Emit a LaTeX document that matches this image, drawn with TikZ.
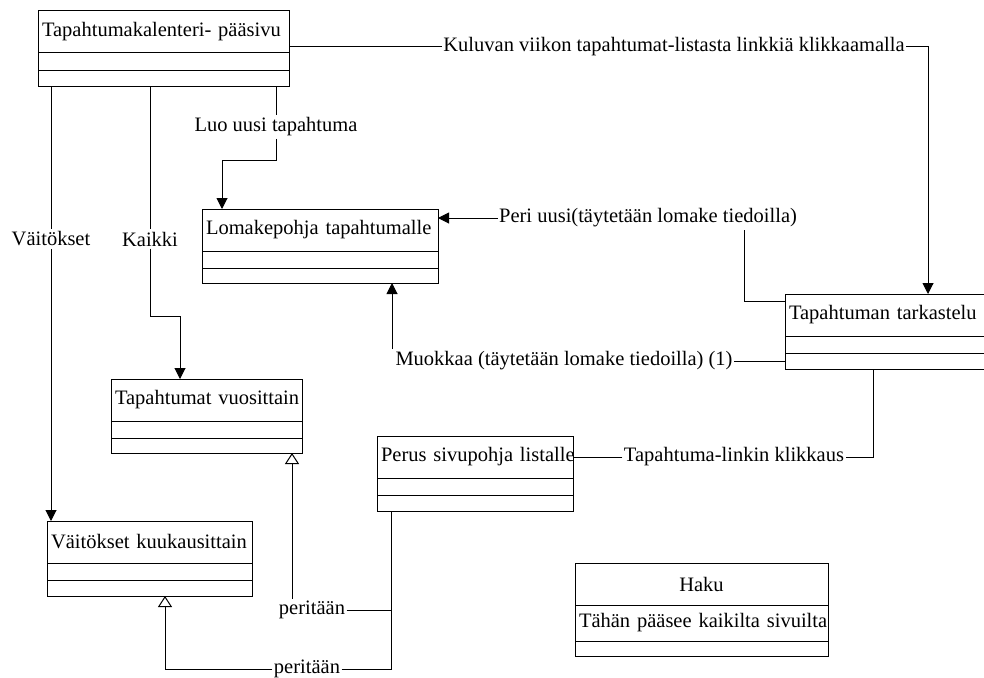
\documentclass[tikz,border=0pt]{standalone}
\usepackage{fontspec}
\setmainfont{Liberation Serif}
\usetikzlibrary{arrows.meta,positioning}

\begin{document}
\begin{tikzpicture}[x=1pt,y=1pt,line width=1pt,font=\fontsize{20.5pt}{24pt}\selectfont,
  ctitle/.style={draw,minimum height=42pt,inner xsep=4pt,inner ysep=0pt,outer sep=0pt,align=left},
  cpart/.style={draw,minimum height=17pt,inner xsep=4pt,inner ysep=0pt,outer sep=0pt},
  lbl/.style={inner xsep=1pt,inner ysep=2pt},
  assoc/.style={-{Triangle[length=11pt,width=11pt]}},
  inherit/.style={-{Triangle[open,length=11pt,width=14pt]}}]
\tikzstyle{every node}+=[inner sep=0pt]
\useasboundingbox (0,0) rectangle (984,-677);
% classes
\node[ctitle,text width=243pt,anchor=north west] (paasivu) at (38,-11) {\mbox{Tapahtumakalenteri- pääsivu}};
\node[cpart,text width=243pt,below=0pt of paasivu] (paasivu-a) {};
\node[cpart,text width=243pt,minimum height=16pt,below=0pt of paasivu-a] (paasivu-o) {};
\node[ctitle,text width=228pt,anchor=north west] (lomake) at (202,-209) {\mbox{Lomakepohja tapahtumalle}};
\node[cpart,text width=228pt,below=0pt of lomake] (lomake-a) {};
\node[cpart,text width=228pt,minimum height=15pt,below=0pt of lomake-a] (lomake-o) {};
\node[ctitle,text width=192pt,anchor=north west] (tarkastelu) at (785,-294) {\mbox{Tapahtuman tarkastelu}};
\node[cpart,text width=192pt,below=0pt of tarkastelu] (tarkastelu-a) {};
\node[cpart,text width=192pt,minimum height=16pt,below=0pt of tarkastelu-a] (tarkastelu-o) {};
\node[ctitle,text width=183pt,anchor=north west] (vuosittain) at (111,-379) {\mbox{Tapahtumat vuosittain}};
\node[cpart,text width=183pt,below=0pt of vuosittain] (vuosittain-a) {};
\node[cpart,text width=183pt,minimum height=15pt,below=0pt of vuosittain-a] (vuosittain-o) {};
\node[ctitle,text width=188pt,anchor=north west] (perus) at (377,-436) {\mbox{Perus sivupohja listalle}};
\node[cpart,text width=188pt,below=0pt of perus] (perus-a) {};
\node[cpart,text width=188pt,minimum height=16pt,below=0pt of perus-a] (perus-o) {};
\node[ctitle,text width=197pt,anchor=north west] (kuukausi) at (47,-521) {\mbox{Väitökset kuukausittain}};
\node[cpart,text width=197pt,below=0pt of kuukausi] (kuukausi-a) {};
\node[cpart,text width=197pt,minimum height=16pt,below=0pt of kuukausi-a] (kuukausi-o) {};
\node[ctitle,text width=245pt,align=center,anchor=north west] (haku) at (575,-563) {Haku};
\node[cpart,text width=245pt,align=center,minimum height=36pt,below=0pt of haku] (haku-a) {\mbox{Tähän pääsee kaikilta sivuilta}};
\node[cpart,text width=245pt,minimum height=15pt,below=0pt of haku-a] (haku-o) {};
% labels
\node[lbl] (kuluvan) at (674,-47) {Kuluvan viikon tapahtumat-listasta linkkiä klikkaamalla};
\node[lbl] (luo) at (276,-127) {Luo uusi tapahtuma};
\node[lbl] (vaitlbl) at (51,-239) {Väitökset};
\node[lbl] (kaikki) at (150,-239) {Kaikki};
\node[lbl] (peri) at (648,-218) {Peri uusi(täytetään lomake tiedoilla)};
\node[lbl] (muokkaa) at (564,-361) {Muokkaa (täytetään lomake tiedoilla) (1)};
\node[lbl] (klikkaus) at (734,-457) {Tapahtuma-linkin klikkaus};
\node[lbl] (perit1) at (312,-610) {peritään};
\node[lbl] (perit2) at (307,-669) {peritään};
% connectors
\draw ([yshift=-15pt]paasivu.east) -- (kuluvan.west);
\draw[assoc] (kuluvan.east) -| ([xshift=143pt]tarkastelu.north west);
\draw (luo |- paasivu-o.south) -- (luo);
\draw[assoc] (luo) |- ([xshift=20pt,yshift=49pt]lomake.north west) -- ([xshift=20pt]lomake.north west);
\draw (vaitlbl |- paasivu-o.south) -- (vaitlbl);
\draw[assoc] (vaitlbl) -- (vaitlbl |- kuukausi.north);
\draw (kaikki |- paasivu-o.south) -- (kaikki);
\draw[assoc] (kaikki) |- ([xshift=69pt,yshift=63pt]vuosittain.north west) -- ([xshift=69pt]vuosittain.north west);
\draw ([yshift=14pt]tarkastelu.west) -| ([xshift=96pt]peri.south);
\draw[assoc] (peri.west) -- (peri.west -| lomake.east);
\draw (tarkastelu-o.west) -- (muokkaa.east);
\draw[assoc] ([xshift=-172pt]muokkaa.north) -- ([xshift=190pt]lomake-o.south west);
\draw ([xshift=88pt]tarkastelu-o.south west) |- (klikkaus.east);
\draw (klikkaus.west) -- (klikkaus.west -| perus.east);
\draw (perit1.east) -| ([xshift=14pt]perus-o.south west);
\draw (perit2.east) -| ([xshift=14pt]perus-o.south west);
\draw[inherit] ([xshift=-20pt]perit1.north) -- ([xshift=181pt]vuosittain-o.south west);
\draw[inherit] (perit2.west) -| ([xshift=118pt]kuukausi-o.south west);
\end{tikzpicture}
\end{document}
